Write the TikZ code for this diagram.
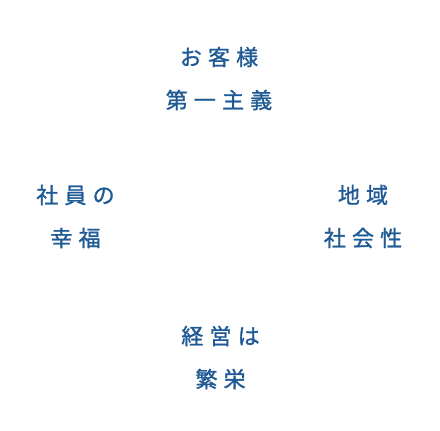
\documentclass[tikz,border=0pt]{standalone}
\usepackage{fontspec}
\usepackage{tikz}
\newfontfamily\jpfont[LetterSpace=28, FakeBold=1.2]{Noto Sans CJK JP}
\definecolor{mottoblue}{HTML}{1F5A94}

\begin{document}
\begin{tikzpicture}[x=0.75pt, y=-0.75pt,
  motto/.style={text=mottoblue, align=center, inner sep=0pt,
    font=\jpfont\fontsize{16.5}{32.25}\selectfont}]

   \useasboundingbox (0,0) rectangle (440,430);

   \node[motto] (customer) at (219,78.5) {お客様\\第一主義};
   \node[motto] (staff) at (75.5,216.5) {社員の\\幸福};
   \node[motto] (region) at (363,216.5) {地域\\社会性};
   \node[motto] (business) at (220.5,357.5) {経営は\\繁栄};

\end{tikzpicture}
\end{document}
